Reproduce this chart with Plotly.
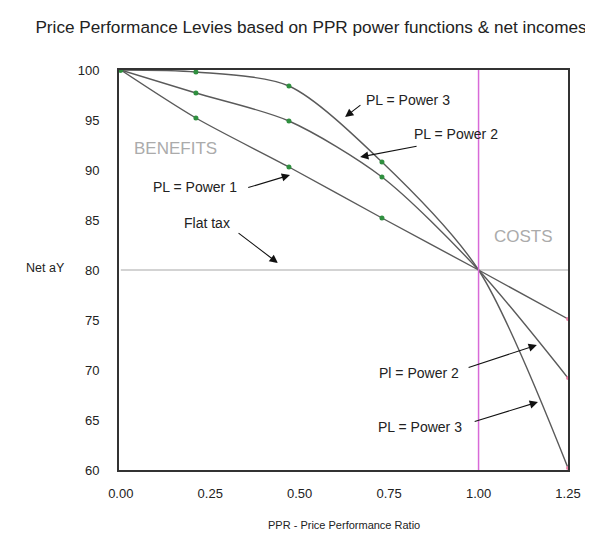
import plotly.graph_objects as go

# Data
ppr = [0.0, 0.21, 0.47, 0.73, 1.0, 1.25]
power1 = [100, 95.2, 90.3, 85.2, 80, 75.1]
power2 = [100, 97.7, 94.9, 89.3, 80, 69.2]
power3 = [100, 99.8, 98.4, 90.8, 80, 60.2]
flat_x = [0.0, 1.25]
flat_tax = [80, 80]
marker_idx = [0, 1, 2, 3]
x_ticks = [0.0, 0.25, 0.5, 0.75, 1.0, 1.25]
x_tick_text = ["0.00", "0.25", "0.50", "0.75", "1.00", "1.25"]
y_ticks = [60, 65, 70, 75, 80, 85, 90, 95, 100]

LINE = "#5a5a5a"
GREEN = "#2f8f3f"
PINK = "#f080a8"
FONT = "Liberation Sans, Arial, sans-serif"

fig = go.Figure()

fig.add_trace(go.Scatter(x=flat_x, y=flat_tax, mode="lines",
                         line=dict(color="#a8a8a8", width=1.2), hoverinfo="skip"))

for ys in (power1, power2, power3):
    fig.add_trace(go.Scatter(x=ppr, y=ys, mode="lines",
                             line=dict(color=LINE, width=1.4, shape="spline", smoothing=0.8)))
    fig.add_trace(go.Scatter(x=[ppr[i] for i in marker_idx], y=[ys[i] for i in marker_idx],
                             mode="markers", marker=dict(color=GREEN, size=5)))
    fig.add_trace(go.Scatter(x=[ppr[-1]], y=[ys[-1]], mode="markers",
                             marker=dict(color=PINK, size=4)))

fig.add_shape(type="line", x0=1.0, x1=1.0, y0=0, y1=1, xref="x", yref="paper",
              line=dict(color="#d86ad8", width=1.5))

def arrow(tx, ty, hx, hy):
    fig.add_annotation(x=hx, y=hy, ax=tx, ay=ty, xref="x", yref="y", axref="x", ayref="y",
                       text="", showarrow=True, arrowhead=2, arrowsize=1.5,
                       arrowwidth=1.1, arrowcolor="#111")

def label(x, y, t, size=14, color="#222"):
    fig.add_annotation(x=x, y=y, xref="x", yref="y", text=t, showarrow=False,
                       xanchor="center", yanchor="middle",
                       font=dict(size=size, color=color, family=FONT))

label(0.803, 97.0, "PL = Power 3")
arrow(0.674, 96.6, 0.627, 95.3)
label(0.937, 93.6, "PL = Power 2")
arrow(0.831, 92.4, 0.669, 91.3)
label(0.207, 88.3, "PL = Power 1")
arrow(0.352, 88.2, 0.473, 89.5)
label(0.241, 84.7, "Flat tax")
arrow(0.325, 83.8, 0.439, 80.7)
label(0.834, 69.7, "Pl = Power 2")
arrow(0.968, 70.2, 1.163, 72.5)
label(0.837, 64.3, "PL = Power 3")
arrow(0.985, 64.8, 1.166, 66.8)
label(0.154, 92.2, "BENEFITS", size=17, color="#ababab")
label(1.127, 83.4, "COSTS", size=17, color="#ababab")

fig.add_annotation(x=-0.163, y=0.505, xref="paper", yref="paper", text="Net aY",
                   xanchor="center", yanchor="middle", showarrow=False,
                   font=dict(size=12.5, color="#222", family=FONT))
fig.add_annotation(x=0.5, y=-0.1375, xref="paper", yref="paper",
                   text="PPR - Price Performance Ratio", showarrow=False,
                   xanchor="center", yanchor="middle",
                   font=dict(size=11, color="#222", family=FONT))

# page body has an 8px margin: figure origin sits at (8, 8) in the window
fig.update_layout(
    width=585, height=525,
    margin=dict(l=111, r=25, t=62, b=63),
    paper_bgcolor="white", plot_bgcolor="white",
    showlegend=False,
    font=dict(family=FONT, size=13, color="#222"),
    title=dict(text="Price Performance Levies based on PPR power functions & net incomes",
               x=(311 - 8) / 585, xanchor="center", y=1 - (27 - 8) / 525, yanchor="middle",
               font=dict(size=17.2, color="#222", family=FONT)),
    xaxis=dict(range=[-0.005, 1.25], tickvals=x_ticks, ticktext=x_tick_text,
               showgrid=False, zeroline=False, showline=True, linecolor="#333",
               linewidth=2, mirror=True, ticks="", ticklabelstandoff=10,
               tickfont=dict(size=13)),
    yaxis=dict(range=[60, 100], tickvals=y_ticks, showgrid=False, zeroline=False,
               showline=True, linecolor="#333", linewidth=2, mirror=True, ticks="",
               ticklabelstandoff=15, tickfont=dict(size=13)),
)

fig.write_html("out.html")
